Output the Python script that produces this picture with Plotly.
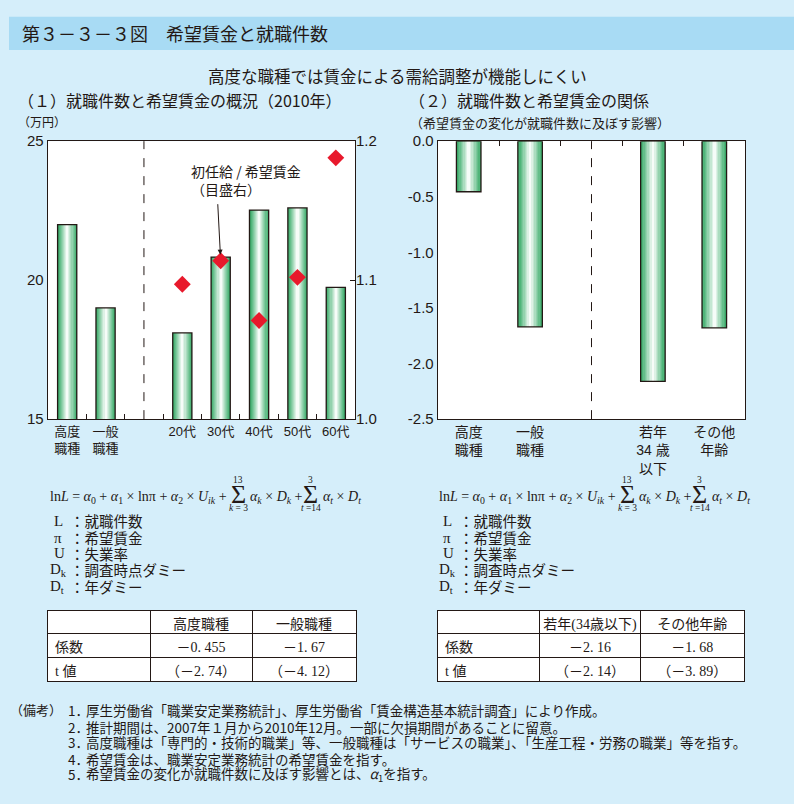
import plotly.graph_objects as go

W, H = 794, 804

# ---------------- data ----------------
left_cats = ['高度<br>職種', '一般<br>職種', ' ', '20代', '30代', '40代', '50代', '60代']
wage_bars = [22.0, 19.0, None, 18.1, 20.83, 22.52, 22.6, 19.74]          # 万円
ratio_pts = [None, None, None, 1.097, 1.114, 1.071, 1.102, 1.188]      # 初任給/希望賃金

left_tab_cols = ['高度職種', '一般職種']
coef_left = [-0.455, -1.67]
t_left = [-2.74, -4.12]
right_tab_cols = ['若年(34歳以下)', 'その他年齢']
coef_right = [-2.16, -1.68]
t_right = [-2.14, -3.89]

right_cats = ['高度<br>職種', '一般<br>職種', ' ', '若年<br>34 歳<br>以下', 'その他<br>年齢']
effect_bars = [coef_left[0], coef_left[1], None, coef_right[0], coef_right[1]]

left_yticks = [15, 20, 25]
left_y2ticks = [1.0, 1.1, 1.2]
right_yticks = [0.0, -0.5, -1.0, -1.5, -2.0, -2.5]
right_ytext = ['0.0', '-0.5', '-1.0', '-1.5', '-2.0', '-2.5']

notes = [
    "厚生労働省「職業安定業務統計」、厚生労働省「賃金構造基本統計調査」により作成。",
    "推計期間は、2007年１月から2010年12月。一部に欠損期間があることに留意。",
    "高度職種は「専門的・技術的職業」等、一般職種は「サービスの職業」、「生産工程・労務の職業」等を指す。",
    "希望賃金は、職業安定業務統計の希望賃金を指す。",
    "希望賃金の変化が就職件数に及ぼす影響とは、<i>α</i><sub>1</sub>を指す。",
]

# ---------------- helpers ----------------
SANS = "Liberation Sans, Noto Sans CJK JP, sans-serif"
CJK = "Noto Sans CJK JP, sans-serif"
SERIF = "Liberation Serif, Noto Sans CJK JP, serif"
INK = '#231815'
BG = '#d5eefa'


def px(x):
    return x / W


def py(y):
    return 1 - y / H


def hexmix(c1, c2, t):
    a = [int(c1[i:i + 2], 16) for i in (1, 3, 5)]
    b = [int(c2[i:i + 2], 16) for i in (1, 3, 5)]
    return '#%02x%02x%02x' % tuple(round(a[k] + (b[k] - a[k]) * t) for k in range(3))


fig = go.Figure()


def gradient_bars(x, y, xa, ya, width):
    n = 9
    for i in range(n):
        frac = 1 - i / n
        col = hexmix('#3dad6c', '#f6fcf8', (i / (n - 1)) ** 1.1)
        fig.add_trace(go.Bar(x=x, y=y, xaxis=xa, yaxis=ya, width=width * frac,
                             marker=dict(color=col, line=dict(width=0)),
                             hoverinfo='skip', showlegend=False))
    fig.add_trace(go.Bar(x=x, y=y, xaxis=xa, yaxis=ya, width=width,
                         marker=dict(color='rgba(0,0,0,0)', line=dict(color=INK, width=1.3)),
                         hoverinfo='skip', showlegend=False))


# left chart
gradient_bars(left_cats, wage_bars, 'x', 'y', 0.5)
fig.add_trace(go.Scatter(x=left_cats, y=ratio_pts, xaxis='x', yaxis='y2', mode='markers',
                         marker=dict(symbol='diamond', size=13, color='#e8192c'),
                         hoverinfo='skip', showlegend=False))
# right chart
gradient_bars(right_cats, effect_bars, 'x2', 'y3', 0.4)
fig.add_trace(go.Scatter(x=right_cats, y=[0] * len(right_cats), xaxis='x3', yaxis='y3',
                         mode='markers', marker=dict(opacity=0), hoverinfo='skip',
                         showlegend=False))

LX = [px(48), px(355)]
RX = [px(438), px(745)]
YD = [py(419), py(135)]

axis_common = dict(showline=True, linecolor=INK, linewidth=1.3, mirror=True,
                   showgrid=False, zeroline=False, fixedrange=True)

fig.update_layout(
    width=W, height=H, autosize=False,
    margin=dict(l=0, r=0, t=0, b=0),
    paper_bgcolor=BG, plot_bgcolor='white',
    barmode='overlay', bargap=0,
    showlegend=False,
    xaxis=dict(domain=LX, anchor='y', type='category', categoryorder='array',
               categoryarray=left_cats, range=[-0.5, len(left_cats) - 0.5],
               tickson='boundaries', ticks='inside', ticklen=5, tickcolor=INK,
               tickfont=dict(family=SANS, size=13, color=INK), **axis_common),
    yaxis=dict(domain=YD, anchor='x', range=[15, 25], tickvals=left_yticks,
               ticks='', tickfont=dict(family=SANS, size=15, color=INK), **axis_common),
    yaxis2=dict(overlaying='y', side='right', anchor='x', range=[1.0, 1.2],
                tickvals=left_y2ticks, tickformat='.1f', ticks='inside', ticklen=5,
                tickcolor=INK, showgrid=False, zeroline=False, showline=False,
                tickfont=dict(family=SANS, size=15, color=INK)),
    xaxis2=dict(domain=RX, anchor='y3', type='category', categoryorder='array',
                categoryarray=right_cats, range=[-0.5, len(right_cats) - 0.5],
                ticks='', tickfont=dict(family=SANS, size=14, color=INK), **axis_common),
    xaxis3=dict(overlaying='x2', anchor='y3', side='top', type='category',
                categoryorder='array', categoryarray=right_cats,
                range=[-0.5, len(right_cats) - 0.5], tickson='boundaries',
                ticks='inside', ticklen=5, tickcolor=INK, showticklabels=False,
                showline=False, showgrid=False, zeroline=False),
    yaxis3=dict(domain=YD, anchor='x2', range=[-2.5, 0], tickvals=right_yticks,
                ticktext=right_ytext, ticks='',
                tickfont=dict(family=SANS, size=15, color=INK), **axis_common),
)

shapes = [
    dict(type='rect', xref='paper', yref='paper', x0=px(9), x1=1.0, y0=py(42), y1=py(8),
         fillcolor='#a8dbf4', line=dict(width=0), layer='below'),
    dict(type='line', xref='x', yref='y domain', x0=2, x1=2, y0=0, y1=1,
         line=dict(color=INK, width=1, dash='dash')),
    dict(type='line', xref='x2', yref='y3 domain', x0=2, x1=2, y0=0, y1=1,
         line=dict(color=INK, width=1, dash='dash')),
]
fig.update_layout(shapes=shapes)

ann = []


def text(x, y, s, size=14, family=CJK, xanchor='left', yanchor='middle', align='left', color=INK):
    ann.append(dict(xref='paper', yref='paper', x=px(x), y=py(y), text=s, showarrow=False,
                    xanchor=xanchor, yanchor=yanchor, align=align,
                    font=dict(family=family, size=size, color=color)))


text(20, 25, '第３－３－３図　希望賃金と就職件数', size=18)
text(397, 68, '高度な職種では賃金による需給調整が機能しにくい', size=16.5, xanchor='center')
text(16, 93, '（１）就職件数と希望賃金の概況（2010年）', size=16)
text(407, 93, '（２）就職件数と希望賃金の関係', size=16)
text(16, 115, '（万円）', size=12)
text(408, 116, '（希望賃金の変化が就職件数に及ぼす影響）', size=13)

# arrow + label
text(189, 175, '初任給 / 希望賃金<br>（目盛右）', size=14)
ann.append(dict(xref='x', yref='y2', x='30代', y=ratio_pts[4], ax=-3, ay=-58,
                axref='pixel', ayref='pixel', text='', showarrow=True, arrowhead=2,
                arrowsize=1, arrowwidth=1, arrowcolor=INK, standoff=6))

# equations
for dx in (0, 389):
    text(48 + dx, 499, 'ln<i>L</i> = <i>α</i><sub>0</sub> + <i>α</i><sub>1</sub> × lnπ + '
         '<i>α</i><sub>2</sub> × <i>U</i><sub><i>ik</i></sub> +', size=14, family=SERIF)
    text(238 + dx, 496, 'Σ', size=26, family=SERIF, xanchor='center')
    text(238 + dx, 481, '13', size=9.5, family=SERIF, xanchor='center')
    text(238 + dx, 510, '<i>k</i> = 3', size=9.5, family=SERIF, xanchor='center')
    text(248 + dx, 499, '<i>α</i><sub><i>k</i></sub> × <i>D</i><sub><i>k</i></sub> +',
         size=14, family=SERIF)
    text(310 + dx, 496, 'Σ', size=26, family=SERIF, xanchor='center')
    text(310 + dx, 481, '3', size=9.5, family=SERIF, xanchor='center')
    text(311 + dx, 510, '<i>t</i> =14', size=9.5, family=SERIF, xanchor='center')
    text(321 + dx, 499, '<i>α</i><sub><i>t</i></sub> × <i>D</i><sub><i>t</i></sub>',
         size=14, family=SERIF)
    syms = ['L', 'π', 'U', 'D<sub>k</sub>', 'D<sub>t</sub>']
    defs = ['：就職件数', '：希望賃金', '：失業率', '：調査時点ダミー', '：年ダミー']
    ys = [523, 540, 556, 573, 590]
    for s, d, yy in zip(syms, defs, ys):
        text((52 if len(s) == 1 else 48) + dx, yy, s, size=15, family=SERIF)
        text(68 + dx, yy, d, size=14.5, family=CJK)

# notes
text(8, 716, '（備考）', size=13)
for i, (n, yy) in enumerate(zip(notes, [716, 733, 749, 766, 782])):
    text(66, yy, f'{i + 1}．', size=13.5)
    text(84, yy, n, size=13.5)

fig.update_layout(annotations=ann)


# tables
def fmt_coef(v):
    s = f'{abs(v)}'.replace('.', '. ')
    return ('－' if v < 0 else '') + s


def fmt_t(v):
    return '（' + fmt_coef(v) + '）'


def add_table(x0, x1, cols, coefs, ts):
    fig.add_trace(go.Table(
        domain=dict(x=[px(x0), px(x1)], y=[py(688), py(615)]),
        columnwidth=[103, 102, 104],
        header=dict(values=[''] + cols, height=23, align='center',
                    fill_color='white', line=dict(color=INK, width=1),
                    font=dict(family=SERIF, size=14, color=INK)),
        cells=dict(values=[['係数', 't 値']] + [[fmt_coef(c), fmt_t(t)] for c, t in zip(coefs, ts)],
                   height=24, align=['left', 'center', 'center'],
                   fill_color='white', line=dict(color=INK, width=1),
                   font=dict(family=SERIF, size=14, color=INK)),
    ))


add_table(47, 356, left_tab_cols, coef_left, t_left)
add_table(437, 744, right_tab_cols, coef_right, t_right)

fig.write_html('out.html', config={'displayModeBar': False, 'staticPlot': True},
               post_script="document.body.style.margin='0px';document.body.style.overflow='hidden';")
